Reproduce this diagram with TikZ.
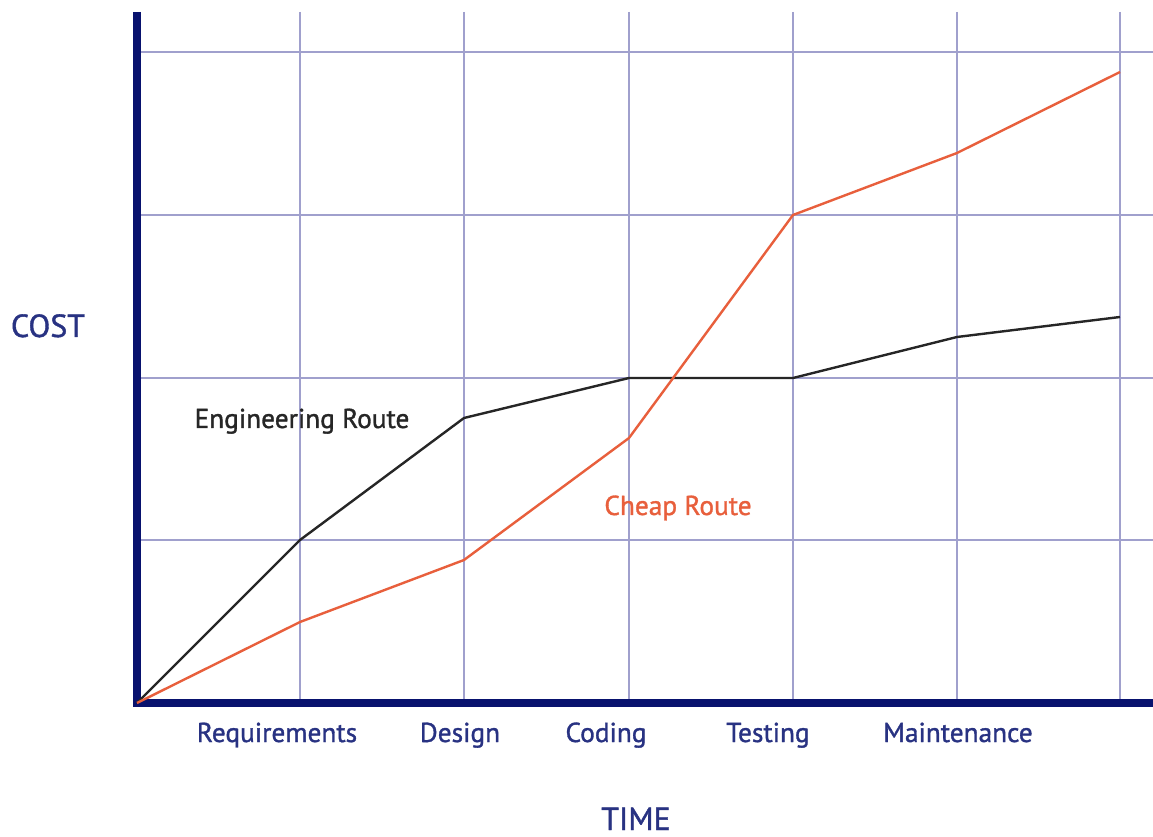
\documentclass[tikz,border=0pt]{standalone}
\usepackage{fontspec}
\setmainfont{PT Sans}
\newfontfamily\labfont{PT Sans}[FakeBold=1.2]
\definecolor{axisblue}{RGB}{8,18,110}
\definecolor{labelblue}{RGB}{40,50,130}
\definecolor{gridc}{RGB}{160,160,205}
\definecolor{cheap}{RGB}{232,95,60}
\begin{document}
\begin{tikzpicture}[x=0.75pt,y=-0.75pt,
  grid/.style={draw=gridc,line width=0.9pt},
  axis/.style={draw=axisblue,line width=6.5pt},
  eng/.style={draw=black!85,line width=1.8pt,line join=round},
  chp/.style={draw=cheap,line width=1.8pt,line join=round},
  lab/.style={text=labelblue,anchor=base,inner sep=0pt,font=\labfont\fontsize{20.5}{24}\selectfont},
  title/.style={text=labelblue,anchor=base,inner sep=0pt,font=\labfont\fontsize{24}{28}\selectfont},
  rlab/.style={anchor=base,inner sep=0pt,font=\labfont\fontsize{20.5}{24}\selectfont}]
\useasboundingbox (0,0) rectangle (1153,837);
\fill[white] (0,0) rectangle (1153,837);
% grid
\foreach \x in {300,464,629,793,957,1120} \draw[grid] (\x,12) -- (\x,703);
\foreach \y in {52,215,378,540} \draw[grid] (137,\y) -- (1153,\y);
% axes
\coordinate (o) at (137,703);
\coordinate (ytop) at (137,12);
\coordinate (xend) at (1153,703);
\draw[axis] (ytop) -- (o) -- (xend);
% engineering route
\coordinate (e1) at (300,540);
\coordinate (e2) at (464,418);
\coordinate (e3) at (629,378);
\coordinate (e4) at (793,378);
\coordinate (e5) at (957,337);
\coordinate (e6) at (1120,317);
\draw[eng] (o) -- (e1) -- (e2) -- (e3) -- (e4) -- (e5) -- (e6);
% cheap route
\coordinate (c1) at (300,622);
\coordinate (c2) at (464,560);
\coordinate (c3) at (629,438);
\coordinate (c4) at (793,215);
\coordinate (c5) at (957,153);
\coordinate (c6) at (1120,72);
\draw[chp] (o) -- (c1) -- (c2) -- (c3) -- (c4) -- (c5) -- (c6);
% labels
\node[title] (cost) at (48,337) {COST};
\node[title] (time) at (636,830) {TIME};
\node[lab] (req) at (277,742) {Requirements};
\node[lab] (des) at (460,742) {Design};
\node[lab] (cod) at (606,742) {Coding};
\node[lab] (tes) at (768,742) {Testing};
\node[lab] (mai) at (958,742) {Maintenance};
\node[rlab,text=black!85] (englab) at (302,428) {Engineering Route};
\node[rlab,text=cheap] (chplab) at (678,515) {Cheap Route};
\end{tikzpicture}
\end{document}
